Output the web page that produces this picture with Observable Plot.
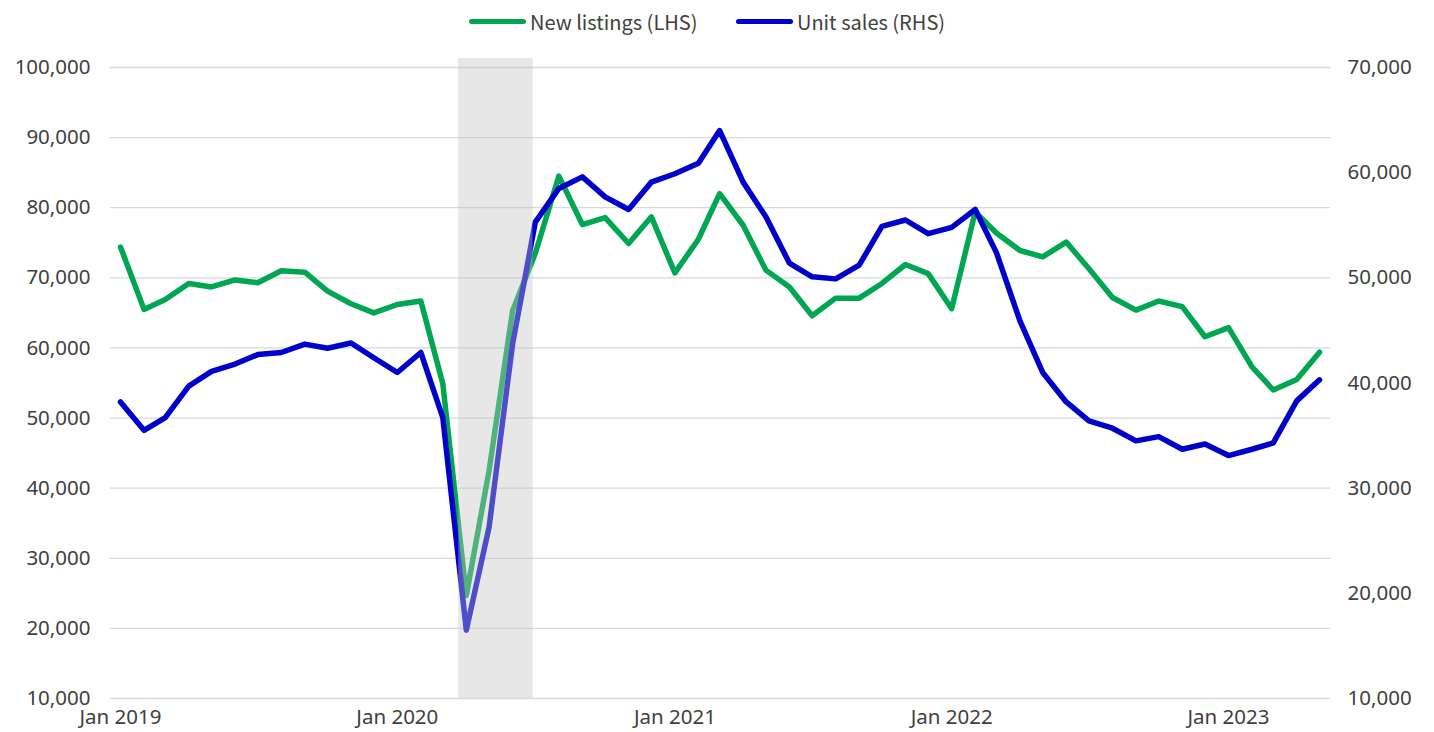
<!DOCTYPE html>
<html>
<head>
<meta charset="utf-8">
<script src="https://cdn.jsdelivr.net/npm/d3@7"></script>
<script src="https://cdn.jsdelivr.net/npm/@observablehq/plot@0.6"></script>
<style>
  html, body { margin: 0; padding: 0; background: #fff; }
  body { width: 1434px; height: 732px; overflow: hidden; font-family: "Noto Sans CJK JP", "Noto Sans", sans-serif; }
  #legend { height: 44px; position: relative; font-size: 20px; color: #404040; }
  .item { position: absolute; top: 7px; display: flex; align-items: center; white-space: nowrap; }
  .swatch { width: 57px; height: 5px; border-radius: 3px; margin-right: 4px; }
</style>
</head>
<body>
<div id="legend"></div>
<div id="chart"></div>
<script>
// ---- Data (monthly, Jan 2019 – May 2023) ----
const startMonth = "2019-01-01";
const endMonth = "2023-05-01";

const newListings = [
  74400, 65500, 66900, 69200, 68700, 69700, 69300, 71000, 70800, 68100, 66300, 65000,
  66200, 66700, 54900, 24700, 42500, 65300, 73500, 84500, 77600, 78600, 74900, 78700,
  70700, 75500, 82000, 77500, 71100, 68700, 64600, 67100, 67100, 69200, 71900, 70600,
  65600, 79400, 76400, 73900, 73000, 75100, 71300, 67200, 65400, 66700, 65900, 61600,
  62900, 57300, 54000, 55500, 59400
];

const unitSales = [
  38200, 35500, 36700, 39700, 41100, 41800, 42700, 42900, 43700, 43300, 43800, 42400,
  41000, 42900, 36700, 16500, 26300, 43700, 55300, 58500, 59600, 57700, 56500, 59100,
  59900, 60900, 64000, 59100, 55800, 51400, 50100, 49900, 51200, 54900, 55500, 54200,
  54800, 56500, 52400, 45900, 41000, 38200, 36400, 35700, 34500, 34900, 33700, 34200,
  33100, 33700, 34300, 38300, 40300
];

const seriesNames = ["New listings (LHS)", "Unit sales (RHS)"];
const seriesColors = ["#00A651", "#0000CC"];

const leftTicks = [10000, 20000, 30000, 40000, 50000, 60000, 70000, 80000, 90000, 100000];
const rightTicks = [10000, 20000, 30000, 40000, 50000, 60000, 70000];
const xTickDates = ["2019-01-01", "2020-01-01", "2021-01-01", "2022-01-01", "2023-01-01"];
const shadedPeriod = [{start: "2020-03-22", end: "2020-06-28"}];

// ---- Scales for dual axis ----
const leftDomain = [10000, 100000];
const rightDomain = [10000, 70000];
const rightToLeft = v => leftDomain[0] + (v - rightDomain[0]) * (leftDomain[1] - leftDomain[0]) / (rightDomain[1] - rightDomain[0]);
const leftToRight = v => rightDomain[0] + (v - leftDomain[0]) * (rightDomain[1] - rightDomain[0]) / (leftDomain[1] - leftDomain[0]);

const months = d3.utcMonth.range(new Date(startMonth), d3.utcMonth.offset(new Date(endMonth), 1));
const rowsListings = months.map((d, i) => ({date: d, value: newListings[i]}));
const rowsSales = months.map((d, i) => ({date: d, value: rightToLeft(unitSales[i])}));
const band = shadedPeriod.map(d => ({start: new Date(d.start), end: new Date(d.end)}));

const fmt = d3.format(",");

// ---- Legend ----
const legend = document.getElementById("legend");
const legendLeft = [469, 736];
seriesNames.forEach((name, i) => {
  const it = document.createElement("div");
  it.className = "item";
  it.style.left = legendLeft[i] + "px";
  it.innerHTML = `<span class="swatch" style="background:${seriesColors[i]}"></span><span>${name}</span>`;
  legend.appendChild(it);
});

// ---- Chart ----
const chart = Plot.plot({
  width: 1434,
  height: 688,
  marginLeft: 120,
  marginRight: 115,
  marginTop: 23,
  marginBottom: 34,
  style: {fontFamily: '"Noto Sans", sans-serif', fontSize: "20.5px", color: "#404040", background: "#fff"},
  x: {type: "utc", domain: [new Date(startMonth), new Date(endMonth)]},
  y: {domain: leftDomain},
  marks: [
    Plot.ruleY(leftTicks, {stroke: "#d9d9d9", strokeWidth: 1.3, insetLeft: -10, insetRight: -11}),
    Plot.line(rowsListings, {x: "date", y: "value", stroke: seriesColors[0], strokeWidth: 5.5, strokeLinejoin: "round", strokeLinecap: "round"}),
    Plot.line(rowsSales, {x: "date", y: "value", stroke: seriesColors[1], strokeWidth: 5.5, strokeLinejoin: "round", strokeLinecap: "round"}),
    Plot.rect(band, {x1: "start", x2: "end", fill: "rgb(194,194,194)", fillOpacity: 0.4, insetTop: -9}),
    Plot.axisY(leftTicks, {anchor: "left", label: null, tickSize: 0, tickPadding: 30, tickFormat: fmt}),
    Plot.axisY(rightTicks.map(rightToLeft), {anchor: "right", label: null, tickSize: 0, tickPadding: 28, tickFormat: d => fmt(Math.round(leftToRight(d)))}),
    Plot.axisX(xTickDates.map(d => new Date(d)), {label: null, tickSize: 0, tickPadding: 11, tickFormat: d3.utcFormat("%b %Y")})
  ]
});
document.getElementById("chart").appendChild(chart);
</script>
</body>
</html>
